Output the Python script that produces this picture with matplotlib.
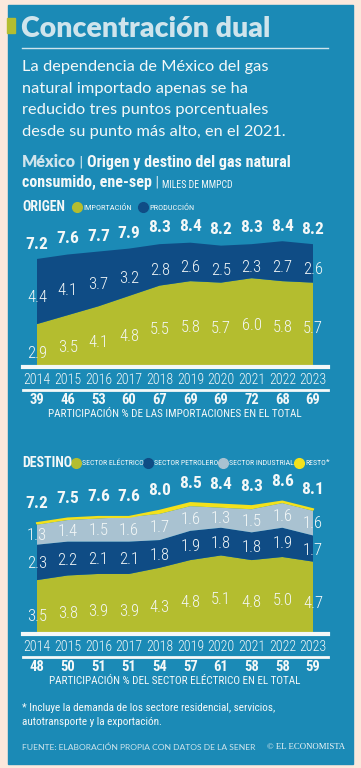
import matplotlib
matplotlib.use("Agg")
import matplotlib.pyplot as plt
from matplotlib import font_manager
from matplotlib.patches import Rectangle
from matplotlib.lines import Line2D
import matplotlib.transforms as mtrans

# datos
years = [2014, 2015, 2016, 2017, 2018, 2019, 2020, 2021, 2022, 2023]
importacion = [2.9, 3.5, 4.1, 4.8, 5.5, 5.8, 5.7, 6.0, 5.8, 5.7]
produccion = [4.4, 4.1, 3.7, 3.2, 2.8, 2.6, 2.5, 2.3, 2.7, 2.6]
total_origen = [7.2, 7.6, 7.7, 7.9, 8.3, 8.4, 8.2, 8.3, 8.4, 8.2]
pct_import = [39, 46, 53, 60, 67, 69, 69, 72, 68, 69]

electrico = [3.5, 3.8, 3.9, 3.9, 4.3, 4.8, 5.1, 4.8, 5.0, 4.7]
petrolero = [2.3, 2.2, 2.1, 2.1, 1.8, 1.9, 1.8, 1.8, 1.9, 1.7]
industrial = [1.3, 1.4, 1.5, 1.6, 1.7, 1.6, 1.3, 1.5, 1.6, 1.6]
total_destino = [7.2, 7.5, 7.6, 7.6, 8.0, 8.5, 8.4, 8.3, 8.6, 8.1]
pct_electrico = [48, 50, 51, 51, 54, 57, 61, 58, 58, 59]

# colores
PEACH = "#fbe8dc"
BLUE = "#1b8ab6"
GREEN = "#b4bd2f"
NAVY = "#0f4c85"
GRAY = "#a9c2d1"
YELLOW = "#f3e11c"
PALE = "#cfe4ec"
WHITE = "#f4f8f8"

names = {f.name for f in font_manager.fontManager.ttflist}
NARROW = None
for cand in ["Liberation Sans Narrow", "Roboto Condensed", "Open Sans Condensed", "DejaVu Sans Condensed"]:
    if cand in names:
        NARROW = cand
        break
if NARROW is None:
    NARROW = "DejaVu Sans"
COND = dict(family=NARROW, stretch="condensed")

W, H = 361, 768
fig = plt.figure(figsize=(W / 100, H / 100), dpi=100, facecolor=PEACH)
bg = fig.add_axes([0, 0, 1, 1])
bg.axis("off")


def fx(px):
    return px / W


def fy(py):
    return 1 - py / H


fig.add_artist(Rectangle((fx(8), fy(764)), fx(353) - fx(8), (764 - 5) / H,
                         transform=fig.transFigure, color=BLUE, zorder=0))
fig.add_artist(Rectangle((fx(7), fy(33)), fx(15) - fx(7), 15 / H,
                         transform=fig.transFigure, color=GREEN, zorder=1))

# titulo
fig.text(fx(21), fy(29), "Concentración dual", family="Lato", weight="heavy",
         size=20.5, color=PALE, va="center")
fig.add_artist(Line2D([fx(22), fx(328)], [fy(48), fy(48)], transform=fig.transFigure,
                      color=PALE, lw=1))
sub = ["La dependencia de México del gas", "natural importado apenas se ha",
       "reducido tres puntos porcentuales", "desde su punto más alto, en el 2021."]
for i, s in enumerate(sub):
    fig.text(fx(22), fy(67 + i * 21.7), s, family="Lato", size=11.8, color=WHITE, va="center")

t = bg.text(fx(22), fy(170), "México", family="Lato", weight="heavy", size=11.5,
            color=PALE, va="bottom", transform=bg.transAxes)
t = bg.annotate(" | ", xy=(1, 0), xycoords=t, va="bottom", size=11, color=PALE,
                family=NARROW)
bg.annotate("Origen y destino del gas natural", xy=(1, 0), xycoords=t, va="bottom",
            size=11.5, weight="bold", color=WHITE, **COND)
t = bg.text(fx(22), fy(190), "consumido, ene-sep", size=11.5, weight="bold",
            color=WHITE, va="bottom", transform=bg.transAxes, **COND)
t = bg.annotate(" | ", xy=(1, 0), xycoords=t, va="bottom", size=11, color=PALE,
                family=NARROW)
bg.annotate("MILES DE MMPCD", xy=(1, 0), xycoords=t, va="bottom", size=7,
            color=WHITE, **COND)


def legend_item(xp, yp, color, label, size=6):
    fig.add_artist(Line2D([fx(xp)], [fy(yp)], transform=fig.transFigure, marker="o",
                          markersize=7, color=color, lw=0))
    return fig.text(fx(xp + 6), fy(yp), label, size=size, color=WHITE, va="center",
                    **COND)


xpx0, xpx1 = 37, 313
pxyr = (xpx1 - xpx0) / 9
xlim = (2014 - (xpx0 - 23) / pxyr, 2023 + (328 - xpx1) / pxyr)


def make_axes(top, base, scale):
    ax = fig.add_axes([fx(23), fy(base), fx(328) - fx(23), (base - top) / H])
    ax.set_xlim(*xlim)
    ax.set_ylim(0, (base - top) / scale)
    ax.axis("off")
    return ax


def footer(ax, base, pcts, caption):
    tr = mtrans.blended_transform_factory(ax.transData, fig.transFigure)
    ax.plot(xlim, [fy(base), fy(base)], transform=tr, color=WHITE, lw=3, clip_on=False)
    ax.plot(xlim, [fy(base + 23), fy(base + 23)], transform=tr, color=WHITE, lw=2,
            clip_on=False)
    for yr, p in zip(years, pcts):
        ax.text(yr, fy(base + 13), str(yr), transform=tr, ha="center", va="center",
                size=10, weight="light", color=WHITE, **COND)
        ax.text(yr, fy(base + 33), str(p), transform=tr, ha="center", va="center",
                size=10.5, weight="bold", color=WHITE, **COND)
    ax.text(2018.5, fy(base + 47), caption, transform=tr, ha="center", va="center",
            size=8, color=WHITE, **COND)


# ORIGEN
fig.text(fx(22), fy(207), "ORIGEN", size=10, weight="bold", color=WHITE, va="center",
         **COND)
legend_item(77, 207, GREEN, "IMPORTACIÓN")
legend_item(143, 207, NAVY, "PRODUCCIÓN")

ax1 = make_axes(215, 367, 14.8)
ax1.stackplot(years, importacion, produccion, colors=[GREEN, NAVY], lw=0)
for i, yr in enumerate(years):
    ax1.text(yr, importacion[i] * 0.6 - 0.8, f"{importacion[i]:.1f}", ha="center",
             va="center", size=12, weight="light", color=WHITE, **COND)
    ax1.text(yr, importacion[i] + produccion[i] / 2 - 0.4, f"{produccion[i]:.1f}",
             ha="center", va="center", size=12, weight="light", color=WHITE, **COND)
    ax1.text(yr, total_origen[i] + 1.1, f"{total_origen[i]:.1f}", ha="center",
             va="center", size=12.5, weight="bold", color=WHITE, clip_on=False, **COND)
footer(ax1, 367, pct_import, "PARTICIPACIÓN % DE LAS IMPORTACIONES EN EL TOTAL")

# DESTINO
fig.text(fx(22), fy(463), "DESTINO", size=10, weight="bold", color=WHITE, va="center",
         **COND)
legend_item(76, 463, GREEN, "SECTOR ELÉCTRICO", 5.6)
legend_item(148, 463, NAVY, "SECTOR PETROLERO", 5.6)
legend_item(223, 463, GRAY, "SECTOR INDUSTRIAL", 5.6)
t = legend_item(299, 463, YELLOW, "RESTO", 5.6)
bg.annotate("*", xy=(1, 0.75), xycoords=t, va="center", size=6, color=WHITE, **COND)

resto = [max(t_ - e - p - s, 0) for t_, e, p, s in
         zip(total_destino, electrico, petrolero, industrial)]
ax2 = make_axes(475, 634, 15.4)
ax2.stackplot(years, electrico, petrolero, industrial, resto,
              colors=[GREEN, NAVY, GRAY, YELLOW], lw=0)
tops = [e + p + s + r for e, p, s, r in zip(electrico, petrolero, industrial, resto)]
ax2.plot(years, tops, color=YELLOW, lw=1.5)
for i, yr in enumerate(years):
    e, p, s = electrico[i], petrolero[i], industrial[i]
    ax2.text(yr, e * 0.7 - 1.3, f"{e:.1f}", ha="center", va="center", size=12,
             weight="light", color=WHITE, **COND)
    ax2.text(yr, e + p / 2 - 0.1, f"{p:.1f}", ha="center", va="center", size=12,
             weight="light", color=WHITE, **COND)
    ax2.text(yr, e + p + s / 2 - 0.05, f"{s:.1f}", ha="center", va="center", size=12,
             weight="light", color=WHITE, **COND)
    ax2.text(yr, total_destino[i] + 1.3, f"{total_destino[i]:.1f}", ha="center",
             va="center", size=12.5, weight="bold", color=WHITE, clip_on=False, **COND)
footer(ax2, 634, pct_electrico, "PARTICIPACIÓN % DEL SECTOR ELÉCTRICO EN EL TOTAL")

fig.text(fx(22), fy(708), "* Incluye la demanda de los sectore residencial, servicios,",
         size=8, color=WHITE, va="center", **COND)
fig.text(fx(22), fy(722), "autotransporte y la exportación.", size=8, color=WHITE,
         va="center", **COND)
fig.text(fx(22), fy(747), "FUENTE: ELABORACIÓN PROPIA CON DATOS DE LA SENER",
         family="Lato", size=6.1, color=PALE, va="center")
fig.text(fx(345), fy(747), "© EL ECONOMISTA", family="Liberation Serif", size=6.3,
         color=WHITE, va="center", ha="right")

fig.savefig("out.png", dpi=100, facecolor=PEACH)
